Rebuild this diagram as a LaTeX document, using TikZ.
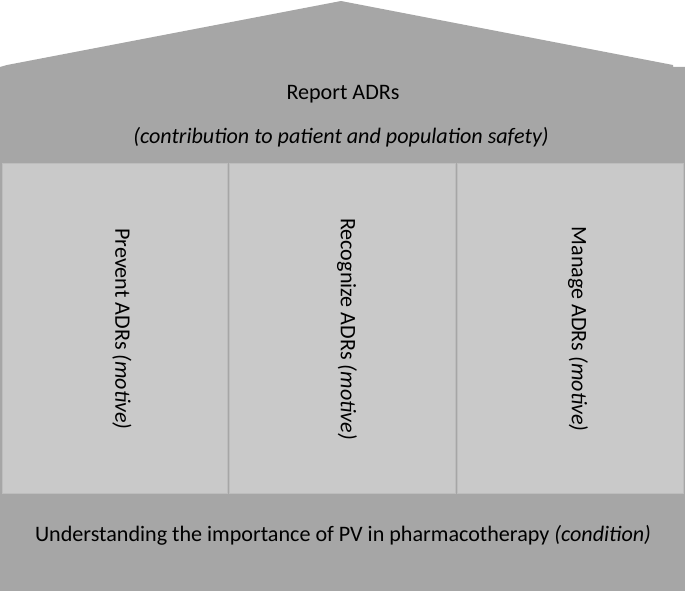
\documentclass[tikz,border=0pt]{standalone}
\usepackage{fontspec}
\setmainfont{Carlito}
\definecolor{housegray}{HTML}{A6A6A6}
\definecolor{pillargray}{HTML}{C9C9C9}
\definecolor{pillarline}{HTML}{BDBDBD}
\begin{document}
\begin{tikzpicture}[x=1pt,y=-1pt,
  pillar/.style={fill=pillargray,draw=pillarline,line width=0.8pt},
  txt/.style={font=\fontsize{22.1}{26}\selectfont,text=black,inner sep=0pt},
  vtxt/.style={txt,rotate=-90}]
\useasboundingbox (0,0) rectangle (685,591);
\fill[housegray] (0,67) -- (7,65) -- (341,1) -- (673,65) -- (673,67) -- (685,67) -- (685,591) -- (0,591) -- cycle;
\path[pillar] (2,163) rectangle (227,493);
\path[pillar] (229,163) rectangle (455,493);
\path[pillar] (457,163) rectangle (683,493);
\node[txt] (report) at (343,94) {Report ADRs};
\node[txt] (contrib) at (341,137) {\itshape (contribution to patient and population safety)};
\node[vtxt] (prevent) at (122,329) {Prevent ADRs \textit{(motive)}};
\node[vtxt] (recog) at (347,329) {Recognize ADRs \textit{(motive)}};
\node[vtxt] (manage) at (578,329) {Manage ADRs \textit{(motive)}};
\node[txt] (under) at (343,535) {Understanding the importance of PV in pharmacotherapy \textit{(condition)}};
\end{tikzpicture}
\end{document}
